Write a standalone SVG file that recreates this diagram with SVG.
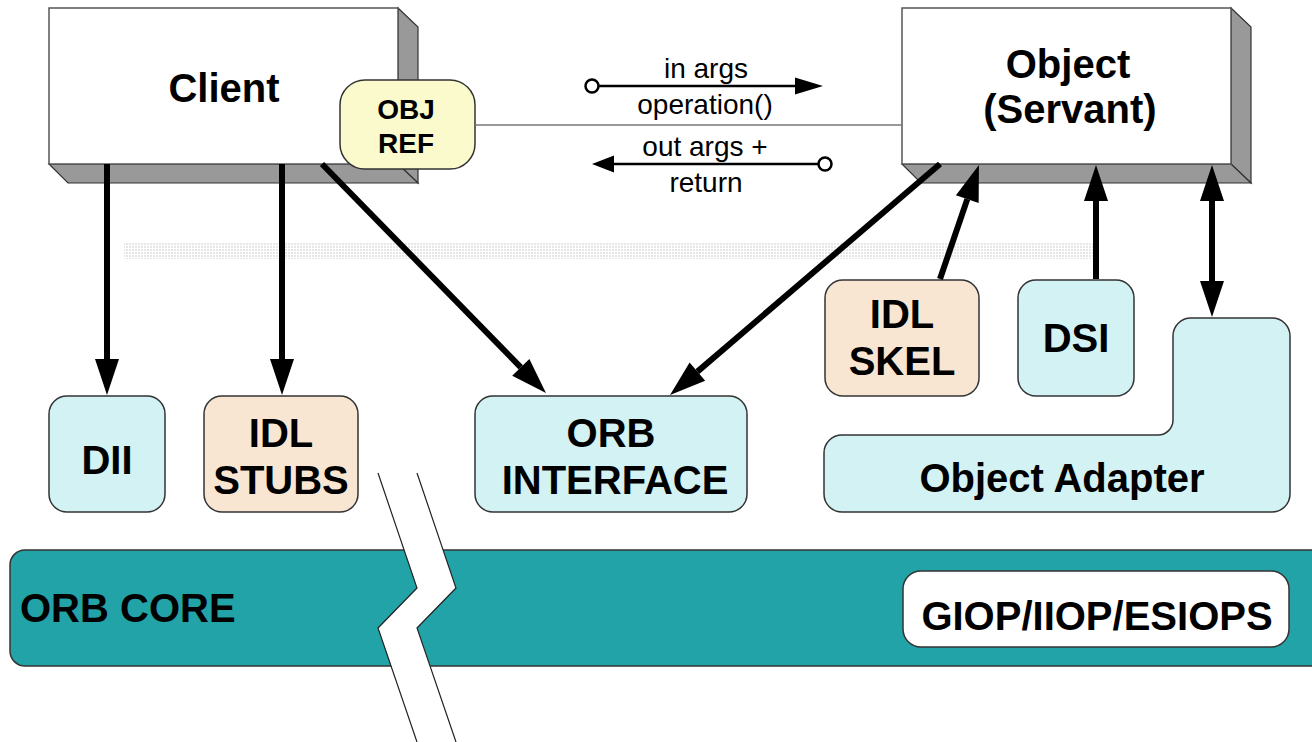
<svg xmlns="http://www.w3.org/2000/svg" width="1312" height="742" viewBox="0 0 1312 742">
<style>
text{font-family:"Liberation Sans",Arial,sans-serif;fill:#000;text-anchor:middle}
.b{font-weight:bold;font-size:40px}
.s{font-size:28px}
.r{font-weight:bold;font-size:28px}
.box{stroke:#333;stroke-width:1.5}
.cyan{fill:#d3f2f4}
.peach{fill:#f8e6d3}
.front{fill:#fff;stroke:#555;stroke-width:1.5}
.shade{fill:#999;stroke:#333;stroke-width:1.2}
.thick{stroke:#000;stroke-width:6;fill:none}
.thin{stroke:#000;stroke-width:2.5;fill:none}
</style>
<defs>
<pattern id="dots" width="3" height="3" patternUnits="userSpaceOnUse"><rect width="2" height="2" fill="#e6e6e6"/></pattern>
<marker id="ah" markerUnits="userSpaceOnUse" markerWidth="36" markerHeight="24" refX="0" refY="12" orient="auto" overflow="visible"><path d="M0,0 L36,12 L0,24 Z" fill="#000"/></marker>
<marker id="ahs" markerUnits="userSpaceOnUse" markerWidth="36" markerHeight="24" refX="0" refY="12" orient="auto-start-reverse" overflow="visible"><path d="M0,0 L36,12 L0,24 Z" fill="#000"/></marker>
</defs>
<rect x="0" y="0" width="1312" height="742" fill="#fff"/>
<rect x="124" y="242" width="969" height="17" fill="url(#dots)"/>

<g id="orb-core">
<path d="M25,550 H1330 V666 H25 A15,15 0 0 1 10,651 V565 A15,15 0 0 1 25,550 Z" fill="#21a3a8" stroke="#333" stroke-width="1.5"/>
<text x="20" y="622" class="b" style="text-anchor:start">ORB CORE</text>
</g>
<g id="giop">
<rect x="903" y="571" width="386" height="76" rx="18" fill="#fff" class="box"/>
<text x="1097" y="630" class="b">GIOP/IIOP/ESIOPS</text>
</g>
<g id="break">
<polygon points="378,473 417,473 456,588 417,628 457,742 418,742 378,628 417,588" fill="#fff"/>
<polyline points="378,473 417,588 378,628 417,742" fill="none" stroke="#222" stroke-width="1.2"/>
<polyline points="417,473 456,588 417,628 456,742" fill="none" stroke="#222" stroke-width="1.2"/>
</g>

<g id="client">
<polygon class="shade" points="398,8 418,27 418,183 398,164"/>
<polygon class="shade" points="49,164 68,183 418,183 398,164"/>
<rect class="front" x="49" y="8" width="349" height="156"/>
<text x="224" y="102" class="b">Client</text>
</g>
<g id="object">
<polygon class="shade" points="1231,8 1251,27 1251,183 1231,164"/>
<polygon class="shade" points="902,164 921,183 1251,183 1231,164"/>
<rect class="front" x="902" y="8" width="329" height="156"/>
<text x="1068" y="78" class="b">Object</text>
<text x="1070" y="123" class="b">(Servant)</text>
</g>
<g id="objref">
<rect x="340" y="80" width="135" height="89" rx="25" fill="#fafacc" class="box"/>
<text x="406" y="119" class="r">OBJ</text>
<text x="406" y="153" class="r">REF</text>
</g>

<g id="dii">
<rect x="49" y="396" width="116" height="116" rx="18" class="box cyan"/>
<text x="107" y="474" class="b">DII</text>
</g>
<g id="idl-stubs">
<rect x="204" y="396" width="154" height="116" rx="18" class="box peach"/>
<text x="281" y="447" class="b">IDL</text>
<text x="281" y="494" class="b">STUBS</text>
</g>
<g id="orb-interface">
<rect x="475" y="396" width="272" height="116" rx="18" class="box cyan"/>
<text x="611" y="447" class="b">ORB</text>
<text x="615" y="494" class="b">INTERFACE</text>
</g>
<g id="idl-skel">
<rect x="825" y="280" width="154" height="116" rx="18" class="box peach"/>
<text x="902" y="328" class="b">IDL</text>
<text x="902" y="375" class="b">SKEL</text>
</g>
<g id="dsi">
<rect x="1018" y="280" width="116" height="116" rx="18" class="box cyan"/>
<text x="1076" y="352" class="b">DSI</text>
</g>
<g id="object-adapter">
<path d="M842,435 H1158 A15,15 0 0 0 1173,420 V336 A18,18 0 0 1 1191,318 H1272 A18,18 0 0 1 1290,336 V494 A18,18 0 0 1 1272,512 H842 A18,18 0 0 1 824,494 V453 A18,18 0 0 1 842,435 Z" class="box cyan"/>
<text x="1062" y="492" class="b">Object Adapter</text>
</g>

<g id="connectors">
<line x1="475" y1="125" x2="902" y2="125" stroke="#777" stroke-width="1.5"/>
<line class="thin" x1="598.5" y1="86" x2="796" y2="86"/>
<polygon points="795,77.5 823,86 795,94.5" fill="#000"/>
<circle cx="592" cy="86" r="6.5" fill="#fff" stroke="#000" stroke-width="2.5"/>
<line class="thin" x1="613" y1="164" x2="818.5" y2="164"/>
<polygon points="592,164 614,155.5 614,172.5" fill="#000"/>
<circle cx="825" cy="164" r="6.5" fill="#fff" stroke="#000" stroke-width="2.5"/>
<line class="thick" x1="107" y1="164" x2="107" y2="359" marker-end="url(#ah)"/>
<line class="thick" x1="282" y1="164" x2="282" y2="359" marker-end="url(#ah)"/>
<line class="thick" x1="322" y1="164" x2="520.8" y2="367.3" marker-end="url(#ah)"/>
<line class="thick" x1="940" y1="164" x2="697.4" y2="371.6" marker-end="url(#ah)"/>
<line class="thick" x1="940" y1="279" x2="967.3" y2="199.1" marker-end="url(#ah)"/>
<line class="thick" x1="1096" y1="279" x2="1096" y2="201" marker-end="url(#ah)"/>
<line class="thick" x1="1212" y1="201" x2="1212" y2="281" marker-start="url(#ahs)" marker-end="url(#ahs)"/>
</g>
<g id="labels">
<text x="706" y="78" class="s">in args</text>
<text x="705" y="114" class="s">operation()</text>
<text x="705" y="156" class="s">out args +</text>
<text x="706" y="192" class="s">return</text>
</g>
</svg>
